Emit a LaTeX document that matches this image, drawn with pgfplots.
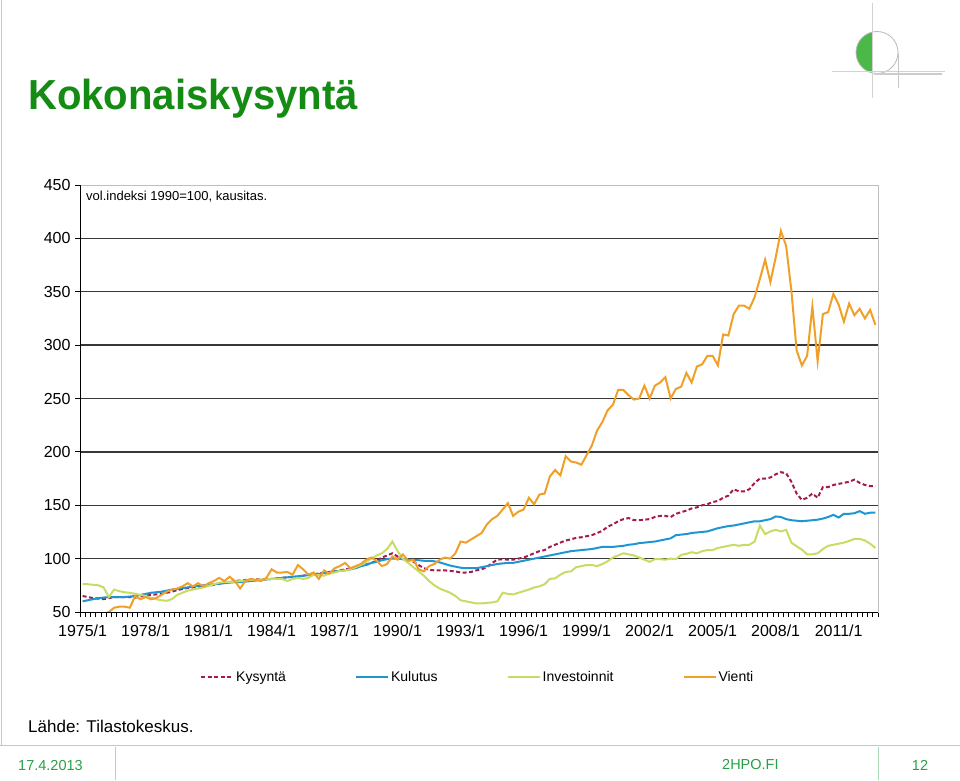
\documentclass[border=0pt]{standalone}
\usepackage{pgfplots}
\pgfplotsset{compat=1.18}
\usepackage{pgfplotstable}
\usepackage{fontspec}
\setmainfont{Liberation Sans}
\definecolor{kys}{RGB}{165,25,80}
\definecolor{kul}{RGB}{30,150,210}
\definecolor{inv}{RGB}{200,220,100}
\definecolor{vie}{RGB}{240,160,40}
\definecolor{titlegreen}{RGB}{20,140,20}
\definecolor{footgreen}{RGB}{40,160,70}
\definecolor{footline}{RGB}{170,215,180}
\definecolor{logogreen}{RGB}{76,184,72}
\definecolor{gridc}{RGB}{55,55,55}

\pgfplotstableread{
i kys kul inv vie
0 65 60 76 44
1 64 61 76 45
2 63 62 75.5 46
3 62.5 63 75 47
4 62 63.5 73 48
5 63 64 64 50
6 64 64 71 54
7 64 64 69.5 55
8 64 64 68.5 55
9 64 64.5 68 54
10 63.5 65 67 65
11 64.5 66 66 62
12 65.5 67 65 64
13 66 68 63.5 62
14 66.5 68.5 62 63
15 67 69 61 66
16 68 70 60.5 69
17 69 71 62 71
18 70.5 71.5 66 72
19 71.5 72.5 68 74
20 72.5 73 70 77
21 73 74 71 74
22 73.5 74.5 72 77
23 74 75 73 74
24 74.5 75.5 74.5 77
25 75.5 76 76 79
26 76.5 76.5 77.5 82
27 77.5 77 78 79
28 78 77.5 78 83
29 79 78 78.5 79
30 79.5 78 79 72
31 80 78.5 79.5 79
32 80 79 80 81
33 80.5 79.5 80 80
34 80.5 80 80.5 79
35 80.5 80.5 80.5 82
36 81 81 81 90
37 81.5 81.5 81 87
38 82 82 81 87
39 82.5 82.5 79 87.5
40 83 83 81 85
41 83 83.5 82 94
42 84 84 81 90
43 85 84.5 82 85
44 85.5 85 85 87
45 86 85.5 84.5 81
46 87 86.5 84 89
47 87.5 87 86 86
48 88 88 87 91
49 89 88.5 88.5 93
50 90 89 89 96
51 91 90 90 91
52 92 91 92 93
53 93 93 94 95
54 94.5 94 97 99
55 96 96 100 101
56 98 97 103 98
57 101 98.5 105 93
58 103 99.5 109 95
59 105 100 116 102
60 102 100 107 99
61 99.5 99.5 100 104
62 99 99 96 98
63 97 98.5 92 99
64 94 98.5 88 90
65 91 98 84 88
66 89.5 98 79 93
67 89 97.5 75 95
68 89 96.5 72 99
69 89 95 70 101
70 88.5 93.5 68 100
71 88 92.5 65 105
72 87 91.5 61 116
73 87 91 60 115
74 87.5 91 59 118
75 89 91 58 121
76 90 92 58 124
77 92 93 58.5 132
78 96 94 59 137
79 99 95 60 140
80 99.5 95.5 68 146
81 99 96 67 152
82 99 96 66.5 140
83 100 97 68 144
84 101 98 69.5 146
85 103 99 71 157
86 105 100 73 151
87 107 101 74 160
88 108 102 76 161
89 111 103 81 177
90 113 104 81.5 183
91 115 105 85 178
92 117 106 87.5 196
93 118 107 88 191
94 119.5 107.5 92 190
95 120 108 93 188
96 121 108.5 94 197
97 122 109 94 206
98 124 110 93 220
99 126 111 95 228
100 130 111 97.5 239
101 132 111 101 244
102 135 111.5 103 258
103 137 112 105 258
104 138 113 104 253
105 136 113.5 103 249
106 136 114.5 101 250
107 136.5 115 99 262
108 137 115.5 97 250
109 139 116 99.5 262
110 140 117 99.5 265
111 140 118 99 270
112 139 119 100 250
113 142 122 99.5 259
114 143.5 122.5 103.5 261
115 145 123 104.5 274
116 147 124 106 265
117 148 124.5 105 280
118 150 125 107 282
119 151 125.5 108 290
120 153 127 108 290
121 154 128.5 110 281
122 157 129.5 111 310
123 159 130.5 112 309
124 165 131 113 329
125 163 132 112 337
126 163 133 113 337
127 165 134 113 334
128 171 135 116 345
129 175 135 131 362
130 175 136 123 380
131 176 137 125.5 359
132 179 139.5 127 382
133 181 139 125.5 407
134 180 137 127 393
135 172 136 115 351
136 161 135.5 111.5 295
137 155 135 108.5 281
138 157 135.5 104 290
139 161 136 104 336
140 157 136.5 105 285
141 167 137.5 109 329
142 167 139 112 331
143 169 141 113 348
144 170 138.5 114 338
145 171 142 115 322
146 172 142 116.5 339
147 174 142.5 118.5 328
148 171 144.5 118.5 334
149 169 142 117 325
150 168 143 114 333
151 168 143 110 319
}\data

\begin{document}
\begin{tikzpicture}[x=1pt,y=1pt]
\path[use as bounding box] (0,0) rectangle (960,780);
% slide frame
\draw[footline, line width=1pt] (1.5,780) -- (1.5,35);
\draw[footline, line width=1pt] (0,35) -- (960,35);
\draw[footline, line width=0.8pt] (115,0) -- (115,33);
\draw[footline, line width=0.8pt] (878,0) -- (878,33);
\node[anchor=west, inner sep=0pt, text=footgreen, font=\fontsize{14.5}{16}\selectfont] at (18,14) {17.4.2013};
\node[anchor=west, inner sep=0pt, text=footgreen, font=\fontsize{14.5}{16}\selectfont] at (722,15) {2HPO.FI};
\node[inner sep=0pt, text=footgreen, font=\fontsize{14.5}{16}\selectfont] at (920,15) {12};
% title
\node[anchor=base west, inner sep=0pt, text=titlegreen, font=\bfseries\fontsize{42}{48}\selectfont] at (28,670) {\scalebox{0.955}[1]{Kokonaiskysyntä}};
% source
\node[anchor=base west, inner sep=0pt, font=\fontsize{17}{20}\selectfont] at (28,48) {Lähde: Tilastokeskus.};
% logo
\begin{scope}
\clip (850,700) rectangle (872.7,760);
\fill[logogreen] (877,727.5) circle (21);
\end{scope}
\draw[gray!55, line width=0.8pt] (877,727.5) circle (21);
\draw[gray!35, line width=0.6pt] (872.7,777) -- (872.7,682);
\draw[gray!35, line width=0.6pt] (832,708.3) -- (945,708.3);
\draw[gray!45, line width=0.6pt] (898,727) -- (898,692);
\draw[gray!40, line width=1.2pt] (874,706) -- (942,706);

\begin{axis}[
  at={(80pt,168pt)}, anchor=south west,
  scale only axis, width=798pt, height=427pt,
  xmin=-0.5, xmax=151.5, ymin=50, ymax=450,
  xtick={0,12,...,144},
  xticklabels={1975/1,1978/1,1981/1,1984/1,1987/1,1990/1,1993/1,1996/1,1999/1,2002/1,2005/1,2008/1,2011/1},
  minor xtick={-0.5,0.5,...,151.5},
  ytick={50,100,...,450},
  extra y ticks={100,150,...,400},
  extra y tick labels={},
  extra y tick style={grid=major, major tick length=0pt},
  major grid style={gridc, line width=1.3pt},
  tick align=outside,
  x tick style={draw=none},
  minor x tick style={draw=black, line width=0.8pt},
  minor tick length=5pt,
  y tick style={black, line width=0.8pt},
  major tick length=5pt,
  xtick pos=bottom, ytick pos=left,
  axis line style={gray!50, line width=1pt},
  /pgf/number format/assume math mode=true,
  ticklabel style={font=\fontsize{16}{18}\selectfont},
  xticklabel style={yshift=-4pt},
  yticklabel style={xshift=-1pt},
  legend columns=4,
  legend style={at={(0.1504,-0.1522)}, anchor=west, draw=none, fill=none, inner sep=0pt,
    font=\fontsize{14}{16}\selectfont,
    /tikz/every even column/.append style={column sep=67pt}},
  legend image code/.code={\draw[#1] (0pt,0pt) -- (32pt,0pt);},
  clip=true,
]
\addplot[kys, line width=2pt, dash pattern=on 4pt off 2.5pt] table[x=i,y=kys] {\data};
\addlegendentry{Kysyntä}
\addplot[kul, line width=2pt] table[x=i,y=kul] {\data};
\addlegendentry{Kulutus}
\addplot[inv, line width=2pt] table[x=i,y=inv] {\data};
\addlegendentry{Investoinnit}
\addplot[vie, line width=2pt] table[x=i,y=vie] {\data};
\addlegendentry{Vienti}
\draw[black, line width=1pt] (rel axis cs:0,0) -- (rel axis cs:1,0);
\draw[black, line width=1pt] (rel axis cs:0,0) -- (rel axis cs:0,1);
\end{axis}
\node[anchor=west, inner sep=0pt, font=\fontsize{13}{15}\selectfont] at (86,583) {vol.indeksi 1990=100, kausitas.};
\end{tikzpicture}
\end{document}
